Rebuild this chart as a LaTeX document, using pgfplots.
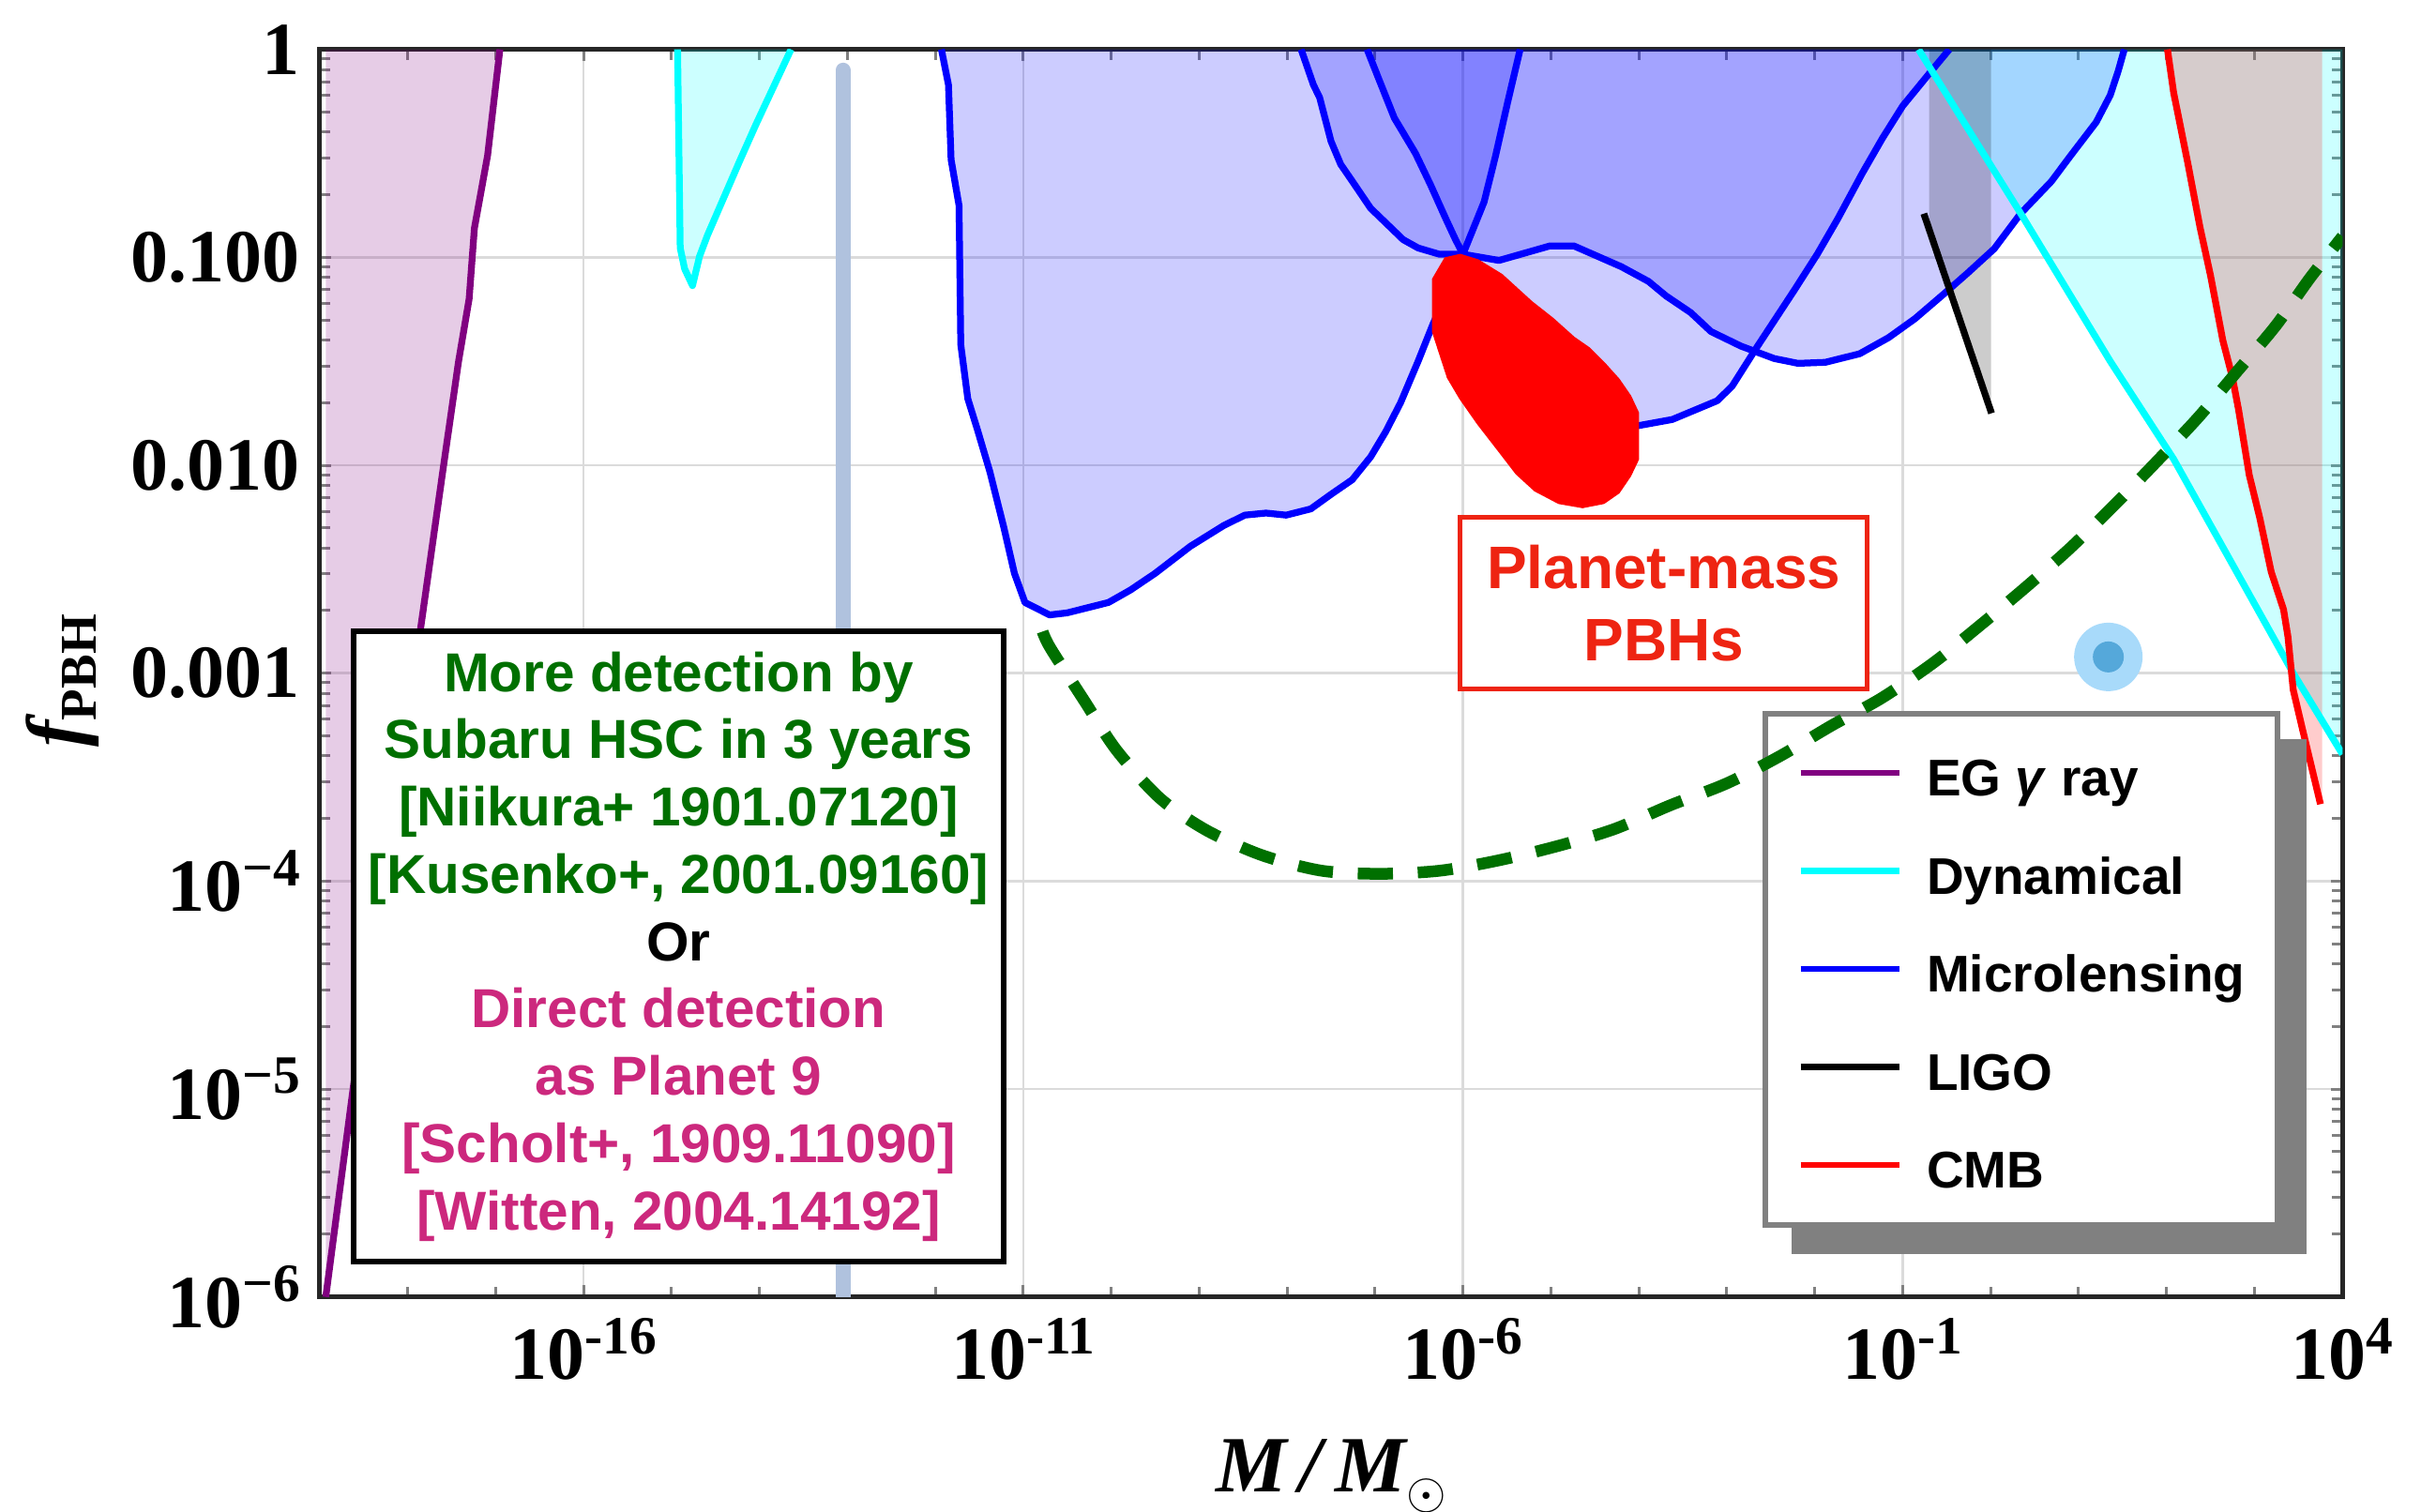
\documentclass[border=0pt]{standalone}
\usepackage{fontspec}
\setmainfont{Liberation Serif}
\newfontfamily\labelsans{Liberation Sans}
\usepackage{pgfplots}
\pgfplotsset{compat=1.18}

\definecolor{egpurple}{RGB}{128,0,128}
\definecolor{dyncyan}{RGB}{0,255,255}
\definecolor{mlblue}{RGB}{0,0,255}
\definecolor{cmbred}{RGB}{255,0,0}
\definecolor{spikeblue}{RGB}{176,194,222}
\definecolor{hscgreen}{RGB}{0,112,0}
\definecolor{pninemag}{RGB}{204,40,125}
\definecolor{pbhred}{RGB}{238,36,18}
\definecolor{dotouter}{RGB}{168,218,250}
\definecolor{dotinner}{RGB}{85,168,218}
\definecolor{legframe}{RGB}{128,128,128}

% power-of-ten tick label in text mode
\newcommand{\tenpow}[1]{10\raisebox{5.5pt}{\fontsize{11.5}{11.5}\selectfont #1}}

\pgfplotsset{
  pbhaxis/.style={
    scale only axis, width=431.3pt, height=266pt,
    xmin=-19, xmax=4, ymin=-6, ymax=0,
  },
  region/.style={draw=none, fill=#1, fill opacity=0.2},
  bound/.style={draw=#1, line width=1.45pt, line join=round},
}

\begin{document}
\begin{tikzpicture}
\begin{axis}[pbhaxis,
  axis line style={line width=1pt, black!85},
  xtick={-16,-11,-6,-1,4},
  xticklabels={\tenpow{-16},\tenpow{-11},\tenpow{-6},\tenpow{-1},\tenpow{4}},
  minor xtick={-18,-17,-15,-14,-13,-12,-10,-9,-8,-7,-5,-4,-3,-2,0,1,2,3},
  ytick={-6,-5,-4,-3,-2,-1,0},
  yticklabels={\tenpow{−6},\tenpow{−5},\tenpow{−4},0.001,0.010,0.100,1},
  minor ytick={-5.69897,-5.52288,-5.39794,-5.30103,-5.22185,-5.15490,-5.09691,-5.04576,
               -4.69897,-4.52288,-4.39794,-4.30103,-4.22185,-4.15490,-4.09691,-4.04576,
               -3.69897,-3.52288,-3.39794,-3.30103,-3.22185,-3.15490,-3.09691,-3.04576,
               -2.69897,-2.52288,-2.39794,-2.30103,-2.22185,-2.15490,-2.09691,-2.04576,
               -1.69897,-1.52288,-1.39794,-1.30103,-1.22185,-1.15490,-1.09691,-1.04576,
               -0.69897,-0.52288,-0.39794,-0.30103,-0.22185,-0.15490,-0.09691,-0.04576},
  grid=major,
  major grid style={black!14, line width=0.5pt},
  tick style={gray, line width=0.6pt},
  major tick length=2.5pt, minor tick length=2.2pt,
  tick label style={font=\fontsize{16}{16}\selectfont\bfseries},
  xticklabel style={inner sep=0pt, anchor=north, yshift=-4.3pt},
  yticklabel style={inner sep=0pt, anchor=east, xshift=-4pt},
  xlabel={{\fontsize{17}{17}\selectfont\bfseries\itshape M\,/\,M}\raisebox{-3.6pt}{\fontsize{11}{11}\selectfont$\odot$}},
  ylabel={{\fontsize{17}{17}\selectfont\bfseries\itshape f}\raisebox{-3pt}{\fontsize{11}{11}\selectfont\bfseries PBH}},
  every axis x label/.style={at={(axis description cs:0.5,-0.101)}, anchor=north},
  every axis y label/.style={at={(axis description cs:-0.127,0.494)}, rotate=90, anchor=center},
  legend cell align=left,
  legend image code/.code={\draw[#1] (0pt,0pt) -- (21pt,0pt);},
  legend style={
    at={(0.7132,0.4700)}, anchor=north west,
    draw=legframe, line width=1.2pt, fill=white,
    inner xsep=6.9pt, inner ysep=6.3pt,
    row sep=8.1pt,
    font=\labelsans\bfseries\fontsize{11}{13}\selectfont,
    nodes={inner sep=0pt, text height=11.3pt, text depth=1.5pt},
    /tikz/every odd column/.append style={column sep=5.2pt},
  },
]

% legend samples
\addlegendimage{egpurple, line width=1.35pt}
\addlegendentry{EG \textit{γ} ray}
\addlegendimage{dyncyan, line width=1.35pt}
\addlegendentry{Dynamical}
\addlegendimage{mlblue, line width=1.35pt}
\addlegendentry{Microlensing}
\addlegendimage{black, line width=1.35pt}
\addlegendentry{LIGO}
\addlegendimage{cmbred, line width=1.35pt}
\addlegendentry{CMB}

% ---- excluded regions (log10 M, log10 f) ----
% extragalactic gamma rays
\addplot[region=egpurple] coordinates {
  (-18.93,-6) (-18.62,-5) (-18.2,-3.75) (-17.85,-2.78) (-17.59,-2.0)
  (-17.42,-1.5) (-17.30,-1.2) (-17.24,-0.86) (-17.09,-0.51) (-16.95,0) (-18.93,0)};
% white-dwarf / dynamical at low mass
\addplot[region=dyncyan] coordinates {
  (-14.93,0) (-14.90,-0.955) (-14.85,-1.055) (-14.76,-1.136) (-14.68,-0.995)
  (-14.59,-0.894) (-14.22,-0.533) (-14.04,-0.362) (-13.64,0)};
% Subaru HSC
\addplot[region=mlblue] coordinates {
  (-11.93,0) (-11.85,-0.17) (-11.82,-0.53) (-11.73,-0.75) (-11.71,-1.42)
  (-11.63,-1.68) (-11.52,-1.83) (-11.38,-2.03) (-11.22,-2.30) (-11.10,-2.52)
  (-10.98,-2.66) (-10.70,-2.72) (-10.50,-2.71) (-10.03,-2.66) (-9.78,-2.60)
  (-9.50,-2.52) (-9.10,-2.39) (-8.72,-2.29) (-8.48,-2.24) (-8.24,-2.23)
  (-8.01,-2.24) (-7.73,-2.21) (-7.50,-2.14) (-7.26,-2.07) (-7.05,-1.96)
  (-6.88,-1.84) (-6.71,-1.70) (-6.51,-1.50) (-6.34,-1.32) (-6.17,-1.16)
  (-6.00,-0.985) (-5.76,-0.734) (-5.63,-0.513) (-5.49,-0.251) (-5.35,0)};
% EROS / MACHO
\addplot[region=mlblue] coordinates {
  (-7.84,0) (-7.70,-0.171) (-7.63,-0.231) (-7.50,-0.442) (-7.39,-0.553)
  (-7.26,-0.633) (-7.05,-0.764) (-6.68,-0.915) (-6.51,-0.955) (-6.27,-0.985)
  (-6.00,-0.985) (-5.59,-1.015) (-5.01,-0.945) (-4.74,-0.945) (-4.47,-0.995)
  (-4.20,-1.045) (-3.89,-1.116) (-3.69,-1.186) (-3.41,-1.266) (-3.18,-1.357)
  (-2.84,-1.427) (-2.46,-1.487) (-2.19,-1.510) (-1.88,-1.505) (-1.49,-1.464)
  (-1.16,-1.386) (-0.86,-1.295) (-0.54,-1.179) (-0.26,-1.075) (0.04,-0.959)
  (0.34,-0.790) (0.69,-0.635) (0.92,-0.505) (1.20,-0.350) (1.36,-0.220)
  (1.45,-0.104) (1.52,0)};
% OGLE
\addplot[region=mlblue] coordinates {
  (-7.09,0) (-6.95,-0.15) (-6.78,-0.33) (-6.54,-0.50) (-6.37,-0.65)
  (-6.20,-0.81) (-6.09,-0.91) (-6.00,-0.985) (-5.60,-1.30) (-5.00,-1.60)
  (-4.50,-1.76) (-4.01,-1.81) (-3.62,-1.78) (-3.11,-1.69) (-2.94,-1.62)
  (-2.67,-1.44) (-2.22,-1.15) (-1.97,-0.984) (-1.74,-0.816) (-1.46,-0.596)
  (-1.23,-0.427) (-1.00,-0.272) (-0.70,-0.117) (-0.47,0)};
% dynamical at high mass
\addplot[region=dyncyan] coordinates {
  (-0.82,0) (0.343,-0.79) (1.36,-1.50) (2.08,-1.97) (3.44,-3.0) (4.0,-3.39) (4.0,0)};
% CMB accretion
\addplot[region=cmbred] coordinates {
  (2.01,0) (2.08,-0.207) (2.24,-0.544) (2.38,-0.855) (2.50,-1.088) (2.64,-1.40)
  (2.75,-1.58) (2.82,-1.736) (2.94,-2.047) (3.06,-2.254) (3.19,-2.513)
  (3.33,-2.694) (3.38,-2.824) (3.44,-3.08) (3.54,-3.26) (3.75,-3.63)
  (3.77,-3.63) (3.77,0)};
% LIGO merger rate
\addplot[region=black] coordinates {
  (-0.70,0) (-0.70,-0.846) (0.005,-1.74) (0.005,0)};

% femtolensing-like narrow band
\addplot[spikeblue, line width=3.2pt, line cap=round] coordinates {(-13.05,-6.1) (-13.05,-0.1)};

% ---- boundaries ----
\addplot[bound=egpurple] coordinates {
  (-18.93,-6) (-18.62,-5) (-18.2,-3.75) (-17.85,-2.78) (-17.59,-2.0)
  (-17.42,-1.5) (-17.30,-1.2) (-17.24,-0.86) (-17.09,-0.51) (-16.95,0)};
\addplot[bound=dyncyan] coordinates {
  (-14.93,0) (-14.90,-0.955) (-14.85,-1.055) (-14.76,-1.136) (-14.68,-0.995)
  (-14.59,-0.894) (-14.22,-0.533) (-14.04,-0.362) (-13.64,0)};
\addplot[bound=mlblue] coordinates {
  (-11.93,0) (-11.85,-0.17) (-11.82,-0.53) (-11.73,-0.75) (-11.71,-1.42)
  (-11.63,-1.68) (-11.52,-1.83) (-11.38,-2.03) (-11.22,-2.30) (-11.10,-2.52)
  (-10.98,-2.66) (-10.70,-2.72) (-10.50,-2.71) (-10.03,-2.66) (-9.78,-2.60)
  (-9.50,-2.52) (-9.10,-2.39) (-8.72,-2.29) (-8.48,-2.24) (-8.24,-2.23)
  (-8.01,-2.24) (-7.73,-2.21) (-7.50,-2.14) (-7.26,-2.07) (-7.05,-1.96)
  (-6.88,-1.84) (-6.71,-1.70) (-6.51,-1.50) (-6.34,-1.32) (-6.17,-1.16)
  (-6.00,-0.985) (-5.76,-0.734) (-5.63,-0.513) (-5.49,-0.251) (-5.35,0)};
\addplot[bound=mlblue] coordinates {
  (-7.84,0) (-7.70,-0.171) (-7.63,-0.231) (-7.50,-0.442) (-7.39,-0.553)
  (-7.26,-0.633) (-7.05,-0.764) (-6.68,-0.915) (-6.51,-0.955) (-6.27,-0.985)
  (-6.00,-0.985) (-5.59,-1.015) (-5.01,-0.945) (-4.74,-0.945) (-4.47,-0.995)
  (-4.20,-1.045) (-3.89,-1.116) (-3.69,-1.186) (-3.41,-1.266) (-3.18,-1.357)
  (-2.84,-1.427) (-2.46,-1.487) (-2.19,-1.510) (-1.88,-1.505) (-1.49,-1.464)
  (-1.16,-1.386) (-0.86,-1.295) (-0.54,-1.179) (-0.26,-1.075) (0.04,-0.959)
  (0.34,-0.790) (0.69,-0.635) (0.92,-0.505) (1.20,-0.350) (1.36,-0.220)
  (1.45,-0.104) (1.52,0)};
\addplot[bound=mlblue] coordinates {
  (-7.09,0) (-6.95,-0.15) (-6.78,-0.33) (-6.54,-0.50) (-6.37,-0.65)
  (-6.20,-0.81) (-6.09,-0.91) (-6.00,-0.985) (-5.60,-1.30) (-5.00,-1.60)
  (-4.50,-1.76) (-4.01,-1.81) (-3.62,-1.78) (-3.11,-1.69) (-2.94,-1.62)
  (-2.67,-1.44) (-2.22,-1.15) (-1.97,-0.984) (-1.74,-0.816) (-1.46,-0.596)
  (-1.23,-0.427) (-1.00,-0.272) (-0.70,-0.117) (-0.47,0)};
\addplot[bound=dyncyan] coordinates {
  (-0.82,0) (0.343,-0.79) (1.36,-1.50) (2.08,-1.97) (3.44,-3.0) (4.0,-3.39)};
\addplot[bound=black] coordinates {(-0.76,-0.79) (0.01,-1.75)};
\addplot[bound=cmbred] coordinates {
  (2.01,0) (2.08,-0.207) (2.24,-0.544) (2.38,-0.855) (2.50,-1.088) (2.64,-1.40)
  (2.75,-1.58) (2.82,-1.736) (2.94,-2.047) (3.06,-2.254) (3.19,-2.513)
  (3.33,-2.694) (3.38,-2.824) (3.44,-3.08) (3.54,-3.26) (3.75,-3.63)};

% planet-mass PBH signal region
\addplot[fill=cmbred, draw=cmbred, line width=0.5pt, line join=round] coordinates {
  (-6.03,-0.989) (-6.20,-1.005) (-6.34,-1.106) (-6.34,-1.357) (-6.17,-1.578)
  (-6.03,-1.678) (-5.83,-1.799) (-5.59,-1.930) (-5.39,-2.040) (-5.18,-2.121)
  (-4.91,-2.181) (-4.64,-2.201) (-4.40,-2.181) (-4.23,-2.131) (-4.10,-2.050)
  (-4.01,-1.970) (-4.01,-1.749) (-4.10,-1.668) (-4.23,-1.588) (-4.40,-1.508)
  (-4.57,-1.437) (-4.74,-1.387) (-4.98,-1.296) (-5.22,-1.216) (-5.35,-1.166)
  (-5.56,-1.085) (-5.83,-1.015)} -- cycle;

% Planet 9 point
\addplot[only marks, mark=*, color=dotouter, mark size=7.1pt]
  coordinates {(1.338,-2.922)};
\addplot[only marks, mark=*, color=dotinner, mark size=3.1pt]
  coordinates {(1.338,-2.922)};

% legend shadow
\fill[legframe] (axis cs:-2.262,-3.318) rectangle (axis cs:3.590,-5.795);

% annotations
\node[draw=black, line width=1.2pt, fill=white, minimum width=138.6pt, minimum height=134.3pt,
      inner sep=0pt, align=center, font=\labelsans\bfseries\fontsize{11.7}{14.35}\selectfont]
  at (axis cs:-14.918,-4.314) {%
  \textcolor{hscgreen}{More detection by}\\
  \textcolor{hscgreen}{Subaru HSC in 3 years}\\
  \textcolor{hscgreen}{{[}Niikura+ 1901.07120{]}}\\
  \textcolor{hscgreen}{{[}Kusenko+, 2001.09160{]}}\\
  Or\\
  \textcolor{pninemag}{Direct detection}\\
  \textcolor{pninemag}{as Planet 9}\\
  \textcolor{pninemag}{{[}Scholt+, 1909.11090{]}}\\
  \textcolor{pninemag}{{[}Witten, 2004.14192{]}}};
\node[draw=pbhred, line width=1pt, fill=white, minimum width=86.9pt, minimum height=36.7pt,
      inner sep=0pt, align=center, text=pbhred,
      font=\labelsans\bfseries\fontsize{12.8}{15.4}\selectfont]
  at (axis cs:-3.717,-2.664) {Planet-mass\\PBHs};
\end{axis}

% Subaru HSC three-year projection, drawn above the legend
\begin{axis}[pbhaxis, hide axis]
\addplot[hscgreen, line width=2.5pt, dash pattern=on 7.5pt off 5.3pt, smooth, tension=0.5]
  coordinates {
  (-10.78,-2.80) (-10.69,-2.88) (-10.31,-3.13) (-9.94,-3.37) (-9.45,-3.60)
  (-8.92,-3.755) (-8.29,-3.875) (-7.61,-3.95) (-6.94,-3.965) (-6.26,-3.95)
  (-5.59,-3.90) (-4.91,-3.83) (-4.28,-3.75) (-3.64,-3.635) (-3.00,-3.53)
  (-2.40,-3.40) (-1.80,-3.25) (-1.24,-3.12) (-0.65,-2.95) (-0.12,-2.77)
  (0.39,-2.59) (0.90,-2.40) (1.41,-2.19) (1.87,-1.99) (2.36,-1.77)
  (2.80,-1.55) (3.24,-1.33) (3.63,-1.10) (4.00,-0.90)};
\end{axis}

\pgfresetboundingbox
\useasboundingbox (-68.15pt,-45.76pt) rectangle (448.05pt,276.53pt);
\end{tikzpicture}
\end{document}
